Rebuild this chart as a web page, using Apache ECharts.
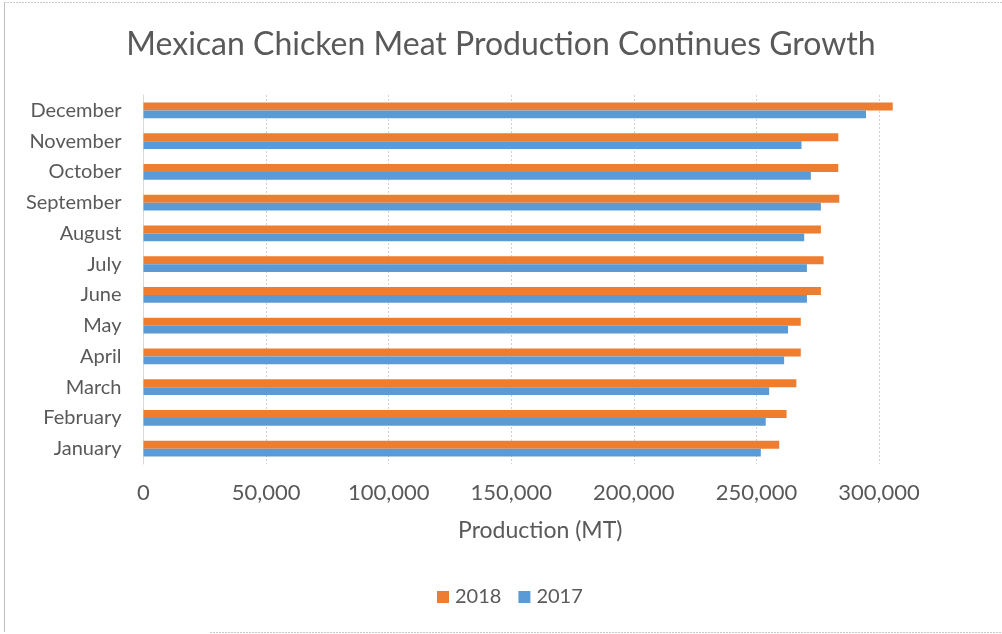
<!DOCTYPE html>
<html>
<head>
<meta charset="utf-8">
<script src="https://cdn.jsdelivr.net/npm/echarts@6/dist/echarts.min.js"></script>
<style>
  html, body { margin: 0; padding: 0; background: #fff; }
  #chart { width: 1002px; height: 634px; }
</style>
</head>
<body>
<div id="chart"></div>
<script>
// months, bottom to top as in the chart
const months = ['January', 'February', 'March', 'April', 'May', 'June',
  'July', 'August', 'September', 'October', 'November', 'December']

// production in metric tons
const prod2018 = [259300, 262300, 266300, 268100, 268100, 276300,
  277400, 276300, 283800, 283400, 283400, 305600]
const prod2017 = [251800, 253800, 255200, 261300, 262900, 270600,
  270600, 269500, 276300, 272200, 268400, 294700]

const xTicks = [0, 50000, 100000, 150000, 200000, 250000, 300000]

const FONT = 'Lato'
const GREY = '#595959'

const chart = echarts.init(document.getElementById('chart'))

const option = {
  animation: false,
  backgroundColor: '#fff',
  textStyle: { fontFamily: FONT, color: GREY },
  title: {
    text: 'Mexican Chicken Meat Production Continues Growth',
    left: 'center',
    top: 24,
    textStyle: { fontFamily: FONT, fontSize: 32, fontWeight: 'normal', color: GREY }
  },
  legend: {
    data: ['2018', '2017'],
    top: 582,
    left: 432,
    itemWidth: 12,
    itemHeight: 12,
    itemGap: 17,
    icon: 'rect',
    textStyle: { fontFamily: FONT, fontSize: 20, color: GREY, padding: [0, 0, 0, 1] }
  },
  grid: { left: 143.5, right: 123, top: 95, bottom: 170 },
  xAxis: {
    type: 'value',
    min: xTicks[0],
    max: xTicks[xTicks.length - 1],
    interval: xTicks[1] - xTicks[0],
    name: 'Production (MT)',
    nameLocation: 'middle',
    nameGap: 55,
    nameTextStyle: { fontFamily: FONT, fontSize: 23, color: GREY, padding: [0, 0, 0, 58] },
    axisLine: { show: false },
    axisTick: { show: false },
    axisLabel: {
      margin: 18,
      fontFamily: FONT,
      fontSize: 22,
      color: GREY,
      formatter: v => v.toLocaleString('en-US')
    },
    splitLine: { show: true, lineStyle: { color: '#cfcfcf', type: [2, 2], width: 1 } }
  },
  yAxis: {
    type: 'category',
    data: months,
    axisLine: { show: true, lineStyle: { color: '#d9d9d9', width: 1 } },
    axisTick: { show: false },
    axisLabel: { margin: 22, fontFamily: FONT, fontSize: 20, color: GREY }
  },
  series: [
    {
      name: '2018',
      type: 'bar',
      data: prod2018,
      clip: false,
      barGap: '0%',
      barCategoryGap: '48%',
      itemStyle: { color: '#ED7D31' }
    },
    {
      name: '2017',
      type: 'bar',
      data: prod2017,
      clip: false,
      barGap: '0%',
      barCategoryGap: '48%',
      itemStyle: { color: '#5B9BD5' }
    }
  ],
  graphic: [
    { type: 'line', shape: { x1: 4.5, y1: 2, x2: 4.5, y2: 632 }, style: { stroke: '#c0c0c0', lineWidth: 1 } },
    { type: 'line', shape: { x1: 4, y1: 2.5, x2: 1002, y2: 2.5 }, style: { stroke: '#c8c8c8', lineWidth: 1, lineDash: [2, 1] } },
    { type: 'line', shape: { x1: 210, y1: 632.5, x2: 1002, y2: 632.5 }, style: { stroke: '#c8c8c8', lineWidth: 1, lineDash: [2, 1] } }
  ]
}

chart.setOption(option)
</script>
</body>
</html>
